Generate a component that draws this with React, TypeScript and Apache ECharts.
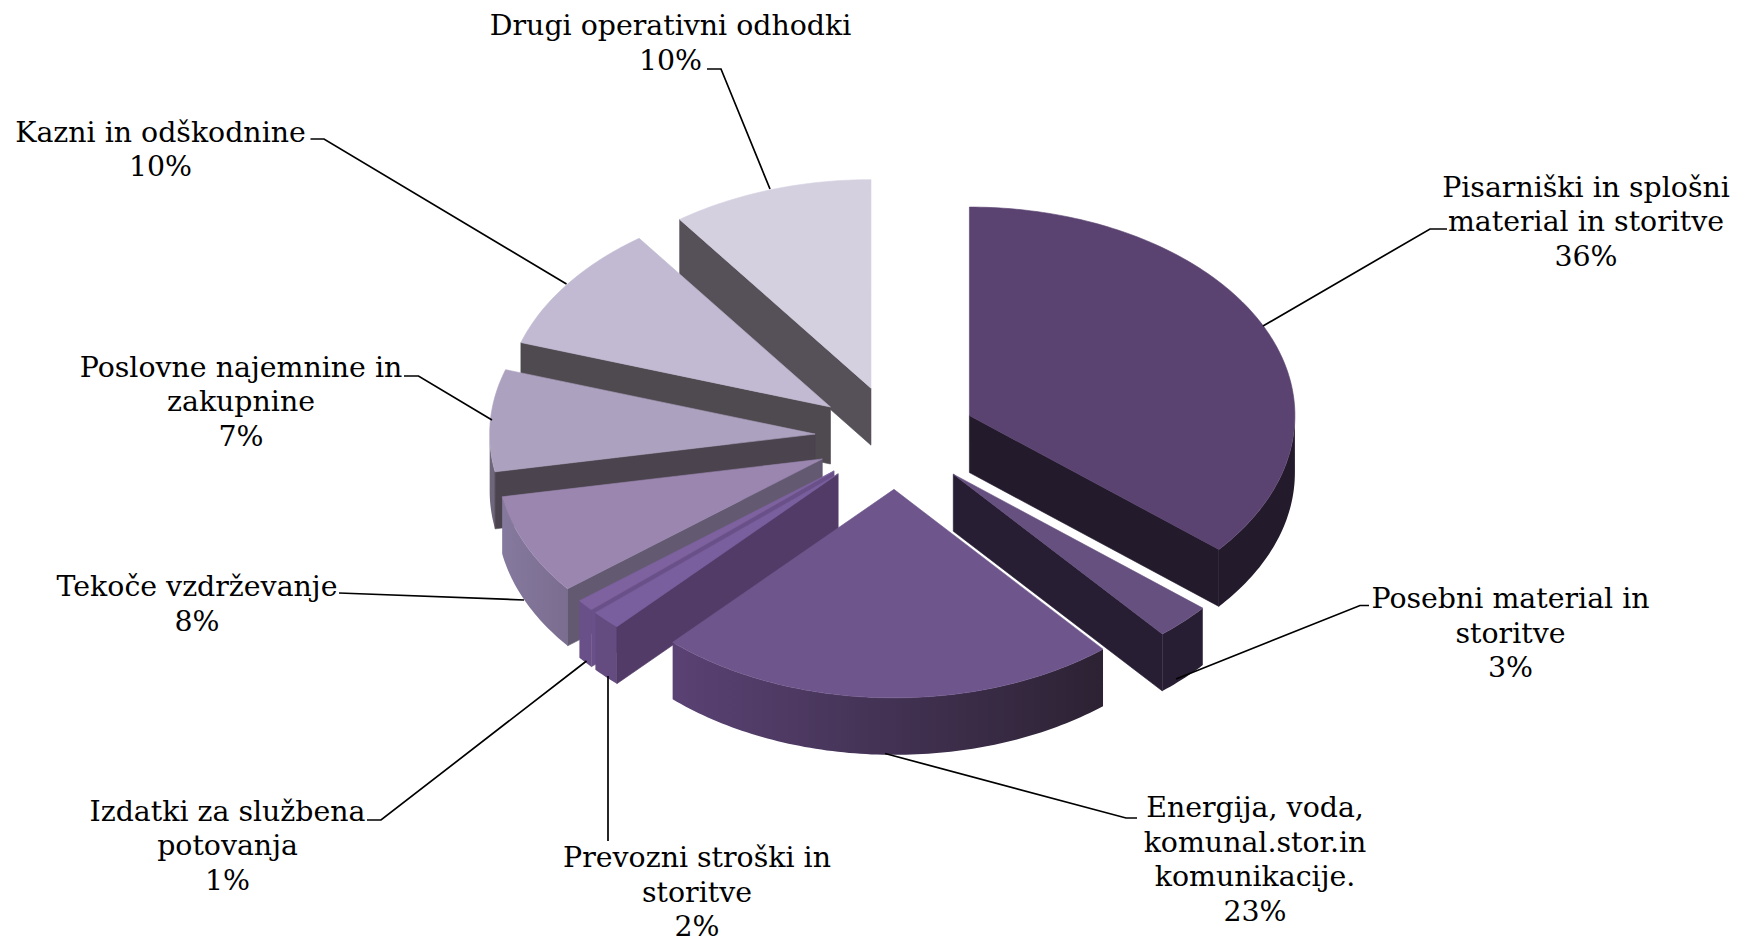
import React, { useEffect, useRef } from "react";
import * as echarts from "echarts";

// Names as printed on the chart ("\n" marks the printed line breaks).
const categories = [
  "Pisarniški in splošni\nmaterial in storitve",
  "Posebni material in\nstoritve",
  "Energija, voda,\nkomunal.stor.in\nkomunikacije.",
  "Prevozni stroški in\nstoritve",
  "Izdatki za službena\npotovanja",
  "Tekoče vzdrževanje",
  "Poslovne najemnine in\nzakupnine",
  "Kazni in odškodnine",
  "Drugi operativni odhodki",
];
// Percentages as printed on the labels.
const printedPercents = [36, 3, 23, 2, 1, 8, 7, 10, 10];
// Slice shares (labels are rounded).
const sliceShares = [36.1, 2.8, 23, 1.5, 0.9, 7.8, 7.9, 10, 10];

const topColors = ["#5a4370", "#66507f", "#6e558c", "#7a5f9e", "#7d629f", "#9b86b0", "#ada1c0", "#c1bad2", "#d5d0e0"];
const faceColors = ["#231a2c", "#281e34", "#2e2336", "#533b68", "#6a5088", "#635a72", "#4b444e", "#4f4a50", "#565058"];
const rimColors = [
  ["#231a2c", "#231a2c"],
  ["#281e34", "#281e34"],
  ["#2c2233", "#5a4274"],
  ["#644c80", "#644c80"],
  ["#6a5088", "#6a5088"],
  ["#7a6d90", "#85799d"],
  ["#6e667a", "#6e667a"],
  ["#4f4a50", "#4f4a50"],
  ["#565058", "#565058"],
];

// Label anchors (centre x, first line centre y) and leader lines (page pixels).
const labelAnchors = [
  [1586, 187.2], [1510.5, 598.7], [1255, 807.7], [697, 857.5], [227.5, 811], [197, 586.7], [241, 367.2], [160.5, 132.2], [670.5, 25.8],
];
const leaderLines = [
  [[1263, 326], [1430, 229], [1447, 229]],
  [[1176, 679], [1360, 605.5], [1369, 605.5]],
  [[885, 753.5], [1126, 818], [1137, 818]],
  [[608, 676], [608, 841]],
  [[586.5, 661], [381, 820], [367, 820]],
  [[524, 600], [339, 593]],
  [[492, 420], [418.5, 376], [404, 376]],
  [[566.5, 284], [324, 139], [310.5, 139]],
  [[770, 189], [721, 69], [707, 69]],
];

const CX = 896;
const CY = 437.5;
const RX = 325.5;
const RY = 208.5;
const DEPTH = 57;
const EXPLODE = 81;
const FONT = "DejaVu Serif";
const FONT_SIZE = 28.4;
const LINE_HEIGHT = 34.5;

const rad = (d: number) => (d * Math.PI) / 180;

function bounds(i: number) {
  const total = sliceShares.reduce((a, b) => a + b, 0);
  const before = sliceShares.slice(0, i).reduce((a, b) => a + b, 0);
  return [(before / total) * 360, ((before + sliceShares[i]) / total) * 360];
}

function renderSlice(params: any, api: any) {
  const i = params.dataIndex;
  const [t1, t2] = bounds(i);
  const m = rad((t1 + t2) / 2);
  const ax = CX + EXPLODE * Math.sin(m);
  const ay = CY - (EXPLODE * RY * Math.cos(m)) / RX;
  const rim = (t: number, d = 0): number[] => [ax + RX * Math.sin(rad(t)), ay - RY * Math.cos(rad(t)) + d];
  const arc = (a: number, b: number, d = 0) => {
    const pts: number[][] = [];
    const n = Math.max(2, Math.ceil(Math.abs(b - a)));
    for (let k = 0; k <= n; k++) pts.push(rim(a + ((b - a) * k) / n, d));
    return pts;
  };
  const z = Math.round(ay) * 10;
  const children: any[] = [];
  const flat = (points: number[][], fill: any, z2: number, stroke?: string) => ({
    type: "polygon",
    z2,
    shape: { points },
    style: { fill, stroke: stroke ?? "none", lineWidth: stroke ? 0.6 : 0 },
  });

  // outer wall, where it faces the viewer
  const a = Math.max(t1, 90);
  const b = Math.min(t2, 270);
  if (b > a) {
    const fill =
      rimColors[i][0] === rimColors[i][1]
        ? rimColors[i][0]
        : new echarts.graphic.LinearGradient(0, 0, 1, 0, [
            { offset: 0, color: rimColors[i][1] },
            { offset: 1, color: rimColors[i][0] },
          ]);
    children.push(flat([...arc(a, b), ...arc(b, a, DEPTH)], fill, z + 1));
  }
  // radial wall, where it faces the viewer
  const faceT = t1 > 180 ? t1 : t2 < 180 ? t2 : null;
  if (faceT !== null) {
    children.push(
      flat(
        [[ax, ay], rim(faceT), rim(faceT, DEPTH), [ax, ay + DEPTH]],
        faceColors[i],
        z + 2,
        faceColors[i]
      )
    );
  }
  // top
  children.push(flat([[ax, ay], ...arc(t1, t2)], topColors[i], z + 3, topColors[i]));

  // leader
  children.push({
    type: "polyline",
    z2: 100000,
    shape: { points: leaderLines[i] },
    style: { stroke: "#000000", lineWidth: 1.7, fill: "none" },
  });
  // label
  const [lx, ly] = labelAnchors[i];
  children.push({
    type: "text",
    z2: 100001,
    x: lx,
    y: ly - LINE_HEIGHT / 2,
    style: {
      text: `${categories[i]}\n${api.value(1)}%`,
      fill: "#000000",
      fontFamily: FONT,
      fontSize: FONT_SIZE,
      lineHeight: LINE_HEIGHT,
      align: "center",
      verticalAlign: "top",
    },
  });
  return { type: "group", children };
}

export default function App() {
  const ref = useRef<HTMLDivElement>(null);
  useEffect(() => {
    const chart = echarts.init(ref.current!, null, { renderer: "svg" });
    chart.setOption({
      animation: false,
      backgroundColor: "#ffffff",
      series: [
        {
          type: "custom",
          coordinateSystem: "none",
          renderItem: renderSlice,
          data: sliceShares.map((s, i) => ({ name: categories[i], value: [s, printedPercents[i]] })),
          silent: true,
        },
      ],
    });
    return () => chart.dispose();
  }, []);
  return <div ref={ref} style={{ position: "fixed", left: 0, top: 0, width: 1746, height: 944 }} />;
}
